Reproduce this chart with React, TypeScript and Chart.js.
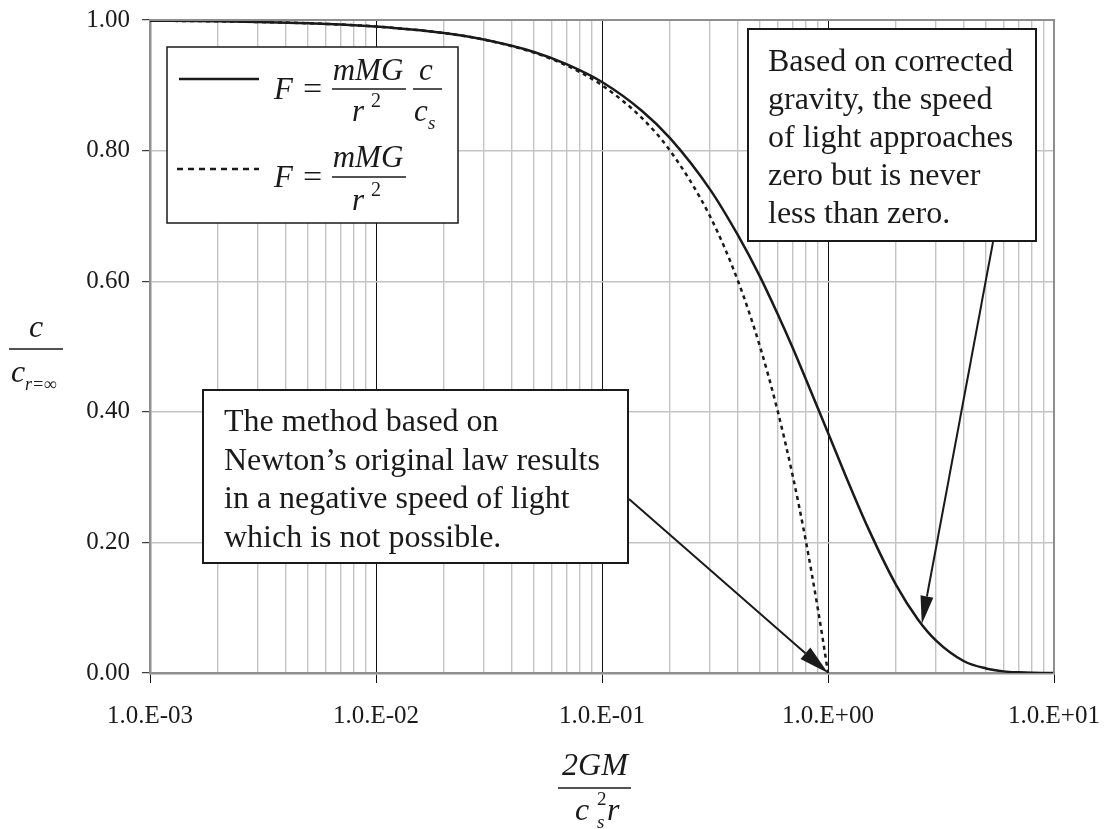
import React, { useEffect, useRef } from "react";
import { Chart, registerables } from "chart.js";

Chart.register(...registerables);

// ---- data ----
const xCorrected = [0.001, 0.002, 0.003, 0.005, 0.007, 0.01, 0.02, 0.03, 0.05, 0.07, 0.1, 0.15, 0.2, 0.3, 0.4, 0.5, 0.6, 0.7, 0.8, 1.0, 1.2, 1.5, 2, 2.5, 3, 4, 5, 6, 7, 8, 10];
const yCorrected = [0.999, 0.998, 0.997, 0.995, 0.993, 0.99, 0.98, 0.97, 0.951, 0.932, 0.905, 0.861, 0.819, 0.741, 0.67, 0.607, 0.549, 0.497, 0.449, 0.368, 0.301, 0.223, 0.135, 0.082, 0.05, 0.018, 0.007, 0.0025, 0.001, 0.0003, 0.0];
const xNewton = [0.001, 0.002, 0.003, 0.005, 0.007, 0.01, 0.02, 0.03, 0.05, 0.07, 0.1, 0.15, 0.2, 0.3, 0.4, 0.5, 0.6, 0.7, 0.8, 0.9, 0.95, 1.0];
const yNewton = [0.999, 0.998, 0.997, 0.995, 0.993, 0.99, 0.98, 0.97, 0.95, 0.93, 0.9, 0.85, 0.8, 0.7, 0.6, 0.5, 0.4, 0.3, 0.2, 0.1, 0.05, 0.0];
const xDecades = [0.001, 0.01, 0.1, 1, 10];
const xTickLabels = ["1.0.E-03", "1.0.E-02", "1.0.E-01", "1.0.E+00", "1.0.E+01"];
const yTickValues = [0, 0.2, 0.4, 0.6, 0.8, 1.0];
const noteCorrected = ["Based on corrected", "gravity, the speed", "of light approaches", "zero but is never", "less than zero."];
const noteNewton = ["The method based on", "Newton\u2019s original law results", "in a negative speed of light", "which is not possible."];
const arrowCorrectedTip = { x: 2.6, y: 0.075 };
const arrowNewtonTip = { x: 1.0, y: 0.0 };

const SERIF = "'Liberation Serif', 'Times New Roman', serif";
const INK = "#1a1a1a";

function isDecade(v: number) {
  const l = Math.log10(v);
  return Math.abs(l - Math.round(l)) < 1e-6;
}

function txt(ctx: CanvasRenderingContext2D, s: string, x: number, y: number, font: string, align: CanvasTextAlign = "left", sx = 1) {
  ctx.save();
  ctx.font = font;
  ctx.textAlign = align;
  ctx.textBaseline = "alphabetic";
  ctx.fillStyle = INK;
  ctx.translate(x, y);
  ctx.scale(sx, 1);
  ctx.fillText(s, 0, 0);
  ctx.restore();
}

function hline(ctx: CanvasRenderingContext2D, x0: number, x1: number, y: number, w = 1.5) {
  ctx.save();
  ctx.strokeStyle = INK;
  ctx.lineWidth = w;
  ctx.beginPath();
  ctx.moveTo(x0, y);
  ctx.lineTo(x1, y);
  ctx.stroke();
  ctx.restore();
}

function arrow(ctx: CanvasRenderingContext2D, x0: number, y0: number, x1: number, y1: number, headLen: number, headW: number) {
  const a = Math.atan2(y1 - y0, x1 - x0);
  const bx = x1 - headLen * Math.cos(a);
  const by = y1 - headLen * Math.sin(a);
  ctx.save();
  ctx.strokeStyle = INK;
  ctx.fillStyle = INK;
  ctx.lineWidth = 2;
  ctx.beginPath();
  ctx.moveTo(x0, y0);
  ctx.lineTo(bx, by);
  ctx.stroke();
  ctx.beginPath();
  ctx.moveTo(x1, y1);
  ctx.lineTo(bx + (headW / 2) * Math.sin(a), by - (headW / 2) * Math.cos(a));
  ctx.lineTo(bx - (headW / 2) * Math.sin(a), by + (headW / 2) * Math.cos(a));
  ctx.closePath();
  ctx.fill();
  ctx.restore();
}

function box(ctx: CanvasRenderingContext2D, x: number, y: number, w: number, h: number, lw = 2) {
  ctx.save();
  ctx.fillStyle = "#ffffff";
  ctx.fillRect(x, y, w, h);
  ctx.strokeStyle = INK;
  ctx.lineWidth = lw;
  ctx.strokeRect(x, y, w, h);
  ctx.restore();
}

const decorPlugin = {
  id: "decor",
  afterDatasetsDraw(chart: any) {
    const ctx: CanvasRenderingContext2D = chart.ctx;
    const ca = chart.chartArea;
    const xs = chart.scales.x;
    const ys = chart.scales.y;

    // top & right frame
    ctx.save();
    ctx.strokeStyle = "#8f8f8f";
    ctx.lineWidth = 2;
    ctx.beginPath();
    ctx.moveTo(ca.left, ca.top);
    ctx.lineTo(ca.right, ca.top);
    ctx.lineTo(ca.right, ca.bottom);
    ctx.stroke();
    ctx.restore();

    // legend
    const lx = 167, ly = 47;
    box(ctx, lx, ly, 291, 176, 1.5);
    ctx.save();
    ctx.strokeStyle = INK;
    ctx.lineWidth = 2.5;
    ctx.beginPath();
    ctx.moveTo(lx + 12, ly + 32);
    ctx.lineTo(lx + 92, ly + 32);
    ctx.stroke();
    ctx.setLineDash([6, 5]);
    ctx.beginPath();
    ctx.moveTo(lx + 10, ly + 122);
    ctx.lineTo(lx + 92, ly + 122);
    ctx.stroke();
    ctx.restore();

    const mf = `italic 31px ${SERIF}`;
    const rf = `31px ${SERIF}`;
    const sf = `italic 19px ${SERIF}`;
    const supf = `20px ${SERIF}`;
    // equation 1
    txt(ctx, "F", lx + 107, ly + 52, mf, "left");
    txt(ctx, "=", lx + 136, ly + 52, rf, "left", 1.1);
    txt(ctx, "mMG", lx + 201, ly + 33, mf, "center");
    hline(ctx, lx + 165, lx + 239, ly + 42);
    txt(ctx, "r", lx + 185, ly + 74, mf, "left");
    txt(ctx, "2", lx + 204, ly + 60, supf, "left");
    txt(ctx, "c", lx + 259, ly + 33, mf, "center");
    hline(ctx, lx + 246, lx + 275, ly + 42);
    txt(ctx, "c", lx + 247, ly + 74, mf, "left");
    txt(ctx, "s", lx + 261, ly + 82, sf, "left");
    // equation 2
    txt(ctx, "F", lx + 107, ly + 140, mf, "left");
    txt(ctx, "=", lx + 136, ly + 140, rf, "left", 1.1);
    txt(ctx, "mMG", lx + 201, ly + 120, mf, "center");
    hline(ctx, lx + 165, lx + 239, ly + 130);
    txt(ctx, "r", lx + 185, ly + 163, mf, "left");
    txt(ctx, "2", lx + 204, ly + 149, supf, "left");

    // annotation boxes
    const nf = `32px ${SERIF}`;
    box(ctx, 748, 29, 288, 212, 2);
    noteCorrected.forEach((s, i) => txt(ctx, s, 768, 71 + i * 38, nf));
    box(ctx, 203, 390, 425, 173, 2);
    noteNewton.forEach((s, i) => txt(ctx, s, 224, 431 + i * 38.5, nf));

    // arrows
    arrow(ctx, 629, 499, xs.getPixelForValue(arrowNewtonTip.x), ys.getPixelForValue(arrowNewtonTip.y), 30, 15);
    arrow(ctx, 993, 242, xs.getPixelForValue(arrowCorrectedTip.x), ys.getPixelForValue(arrowCorrectedTip.y), 28, 13);

    // axis titles
    const tf = `italic 32px ${SERIF}`;
    // x title
    txt(ctx, "2GM", 595, 775, tf, "center");
    hline(ctx, 558, 631, 788);
    txt(ctx, "c", 575, 820, tf, "left");
    txt(ctx, "2", 597, 805, `19px ${SERIF}`, "left");
    txt(ctx, "s", 597, 828, `italic 19px ${SERIF}`, "left");
    txt(ctx, "r", 607, 820, tf, "left");
    // y title
    txt(ctx, "c", 36, 337, tf, "center");
    hline(ctx, 9, 63, 349);
    txt(ctx, "c", 11, 382, tf, "left");
    txt(ctx, "r=\u221e", 25, 390, `italic 18px ${SERIF}`, "left");
  },
};

export default function App() {
  const ref = useRef<HTMLCanvasElement | null>(null);
  useEffect(() => {
    document.body.style.margin = "0";
    const canvas = ref.current;
    if (!canvas) return;
    const xTicks: number[] = [];
    for (let e = -3; e <= 0; e++) {
      for (let m = 1; m <= 9; m++) xTicks.push(m * Math.pow(10, e));
    }
    xTicks.push(10);

    const chart = new Chart(canvas, {
      type: "line",
      data: {
        datasets: [
          {
            label: "corrected",
            data: xCorrected.map((x, i) => ({ x, y: yCorrected[i] })),
            borderColor: INK,
            borderWidth: 2.5,
            pointRadius: 0,
            cubicInterpolationMode: "monotone",
            fill: false,
          },
          {
            label: "newton",
            data: xNewton.map((x, i) => ({ x, y: yNewton[i] })),
            borderColor: INK,
            borderWidth: 2.5,
            borderDash: [4, 4],
            pointRadius: 0,
            cubicInterpolationMode: "monotone",
            fill: false,
          },
        ],
      },
      options: {
        responsive: false,
        animation: false,
        maintainAspectRatio: false,
        layout: { padding: { top: 20, right: 50, left: 0, bottom: 0 } },
        plugins: { legend: { display: false }, tooltip: { enabled: false } },
        scales: {
          x: {
            type: "logarithmic",
            min: 0.001,
            max: 10,
            afterBuildTicks: (scale: any) => {
              scale.ticks = xTicks.map((v) => ({ value: v, major: isDecade(v) }));
            },
            afterFit: (scale: any) => {
              scale.height = 156;
              scale.paddingLeft = 0;
              scale.paddingRight = 0;
            },
            ticks: {
              autoSkip: false,
              maxRotation: 0,
              padding: 18,
              color: INK,
              font: { family: SERIF, size: 25 },
              callback: (v: any) => {
                const idx = xDecades.findIndex((d) => Math.abs(Math.log10(d) - Math.log10(Number(v))) < 1e-6);
                return idx >= 0 ? xTickLabels[idx] : "";
              },
            },
            grid: {
              color: (c: any) => (c.tick && isDecade(c.tick.value) ? "#111111" : "#c4c4c4"),
              lineWidth: (c: any) => (c.tick && isDecade(c.tick.value) ? 1 : 1.4),
              tickColor: (c: any) => (c.tick && isDecade(c.tick.value) ? "#111111" : "rgba(0,0,0,0)"),
              tickLength: 10,
              tickWidth: 1,
            },
            border: { color: "#8f8f8f", width: 2.5 },
          },
          y: {
            type: "linear",
            min: 0,
            max: 1,
            afterBuildTicks: (scale: any) => {
              scale.ticks = yTickValues.map((v) => ({ value: v }));
            },
            afterFit: (scale: any) => {
              scale.width = 150;
              scale.paddingTop = 0;
              scale.paddingBottom = 0;
            },
            ticks: {
              padding: 12,
              color: INK,
              font: { family: SERIF, size: 25 },
              callback: (v: any) => Number(v).toFixed(2),
            },
            grid: {
              color: "#c4c4c4",
              lineWidth: 1.4,
              tickColor: "#111111",
              tickLength: 8,
              tickWidth: 1,
            },
            border: { color: "#8f8f8f", width: 2.5 },
          },
        },
      },
      plugins: [decorPlugin],
    } as any);
    return () => chart.destroy();
  }, []);
  return <canvas ref={ref} width={1104} height={829} style={{ display: "block" }} />;
}
